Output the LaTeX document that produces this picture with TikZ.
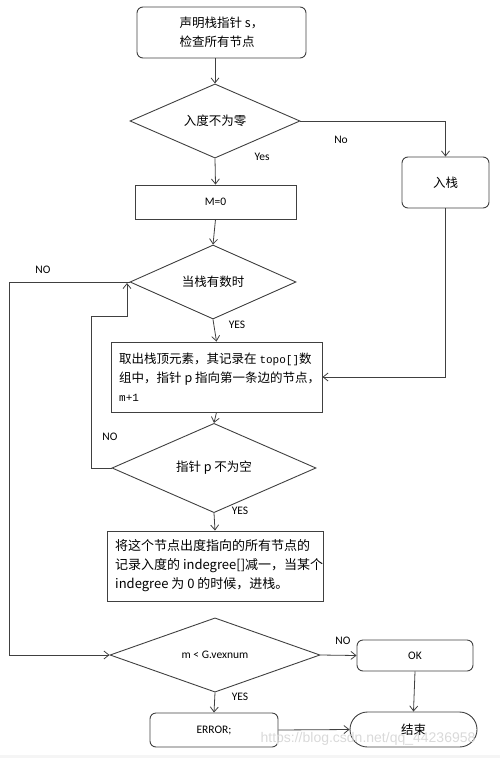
\documentclass[tikz,border=0pt]{standalone}
\usepackage{fontspec}
\setmainfont{Carlito}
\newfontfamily\cjk{Noto Sans CJK SC}
\newfontfamily\mono{Liberation Mono}
\newfontfamily\wm{Liberation Sans}
\usetikzlibrary{shapes.geometric,shapes.misc,arrows.meta}
\begin{document}
\begin{tikzpicture}[x=1pt,y=-1pt,
 line/.style={draw=black!75, line width=0.8pt},
 arr/.style={line,-{Straight Barb[length=5pt,width=8pt]}},
 rbox/.style={draw=black!75, line width=0.9pt, rounded corners=6pt, inner sep=0pt},
 sbox/.style={draw=black!75, line width=0.9pt, inner sep=0pt},
 dia/.style={draw=black!75, line width=0.9pt, diamond, inner sep=0pt},
 lab/.style={font=\fontsize{11.5}{13}\selectfont, inner sep=0pt},
 cn/.style={font=\cjk\fontsize{12.5}{19}\selectfont}
]
\useasboundingbox (0,0) rectangle (500,758);
\fill[gray!8] (0,755) rectangle (500,758);

\node[rbox, cn, minimum width=169pt, minimum height=51pt, align=left] (start) at (221.5,32.5) {声明栈指针 s，\\检查所有节点};
\node[dia, cn, minimum width=170pt, minimum height=58pt] (d1) at (215,121) {入度不为零};
\node[sbox, lab, minimum width=161pt, minimum height=34pt] (m0) at (215.5,202) {M=0};
\node[rbox, cn, minimum width=87pt, minimum height=51pt] (ru) at (445.5,182.5) {入栈};
\node[dia, cn, minimum width=166pt, minimum height=60pt] (d2) at (213,282) {当栈有数时};
\node[sbox, minimum width=211pt, minimum height=70pt] (b3) at (216.5,377) {};
\node[cn, align=left, anchor=west, inner sep=0pt] (t3) at (119,377) {取出栈顶元素，其记录在 {\mono\fontsize{11}{19}\selectfont topo[]}数\\组中，指针 p 指向第一条边的节点，\\{\mono\fontsize{11}{19}\selectfont m+1}};
\node[dia, cn, minimum width=204pt, minimum height=79pt] (d3) at (214,468) {指针 p 不为空};
\node[sbox, minimum width=216pt, minimum height=70pt] (b4) at (215,566) {};
\node[cn, font=\cjk\fontsize{13}{19}\selectfont, align=left, anchor=west, inner sep=0pt] (t4) at (115,566) {将这个节点出度指向的所有节点的\\记录入度的 indegree[]减一，当某个\\indegree 为 0 的时候，进栈。};
\node[dia, lab, minimum width=210pt, minimum height=59pt] (d4) at (215,655) {m < G.vexnum};
\node[rbox, lab, minimum width=116pt, minimum height=31pt] (ok) at (415,655.5) {OK};
\node[rbox, lab, minimum width=128pt, minimum height=34pt] (err) at (214,730) {ERROR;};
\node[draw=black!75, line width=0.9pt, rounded rectangle, cn, inner sep=0pt, minimum width=127pt, minimum height=35pt] (end) at (413.5,729.5) {结束};

\coordinate (lp) at (127,283);
\coordinate (c1) at (91,468);
\coordinate (c2) at (91,316);
\coordinate (c3) at (127,316);
\coordinate (c4) at (9,282);

\draw[arr] (d1.north |- start.south) -- (d1.north);
\draw[arr] (d1.east) -| (ru.north);
\draw[arr] (d1.south) -- (m0.north);
\draw[arr] (m0.south) -- (d2.north);
\draw[arr] (ru.south) |- (b3.east);
\draw[arr] (d2.south) -- (b3.north);
\draw[arr] (b3.south) -- (d3.north);
\draw[arr] (d3.west) -- (c1) -- (c2) -- (c3) -- (lp);
\draw[arr] (d2.west) -- (c4) |- (d4.west);
\draw[arr] (d3.south) -- (b4.north);
\draw[arr] (d4.east) -- (ok.west);
\draw[arr] (ok.south) -- (end.north);
\draw[arr] (d4.south) -- (err.north);
\draw[arr] (err.east) -- (end.west);

\node[lab] (l1) at (341,140) {No};
\node[lab] (l2) at (262,157) {Yes};
\node[lab] (l3) at (43,270) {NO};
\node[lab] (l4) at (237,325) {YES};
\node[lab] (l5) at (110,437) {NO};
\node[lab] (l6) at (240,511) {YES};
\node[lab] (l7) at (343,641) {NO};
\node[lab] (l8) at (240,697) {YES};

\node[font=\wm\fontsize{14}{14}\selectfont, text=gray!30, inner sep=0pt] (wmk) at (368,739) {https://blog.csdn.net/qq\_44236958};
\end{tikzpicture}
\end{document}
